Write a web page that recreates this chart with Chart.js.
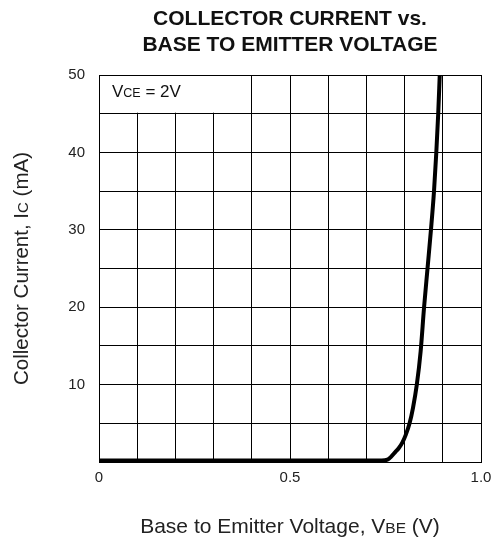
<!DOCTYPE html>
<html>
<head>
<meta charset="utf-8">
<script src="https://cdn.jsdelivr.net/npm/chart.js@4"></script>
<style>
  html, body { margin: 0; padding: 0; background: #fff; }
  #wrap { width: 499px; height: 541px; }
</style>
</head>
<body>
<div id="wrap"><canvas id="chart" width="499" height="541"></canvas></div>
<script>
// ── Data ──
const vbe = [0, 0.70, 0.74, 0.755, 0.765, 0.775, 0.785, 0.794, 0.803, 0.813, 0.822, 0.832, 0.842, 0.851, 0.860, 0.869, 0.877, 0.883, 0.888, 0.892];
const ic  = [0.2, 0.2, 0.2, 0.3, 0.7, 1.25, 1.8, 2.5, 3.5, 5, 7, 10, 14.3, 20, 25, 30, 35, 40, 45, 50];
const xTickLabels = { 0: '0', 5: '0.5', 10: '1.0' };
const yTickLabels = [10, 20, 30, 40, 50];

const FONT = "'Liberation Sans', Arial, Helvetica, sans-serif";

// draw a run of text pieces with different sizes on one baseline
function drawParts(ctx, parts, x, y, align) {
  let total = 0;
  parts.forEach(p => { ctx.font = p[1] + 'px ' + FONT; total += ctx.measureText(p[0]).width; });
  let cx = align === 'center' ? x - total / 2 : x;
  ctx.textAlign = 'left';
  ctx.textBaseline = 'alphabetic';
  parts.forEach(p => {
    ctx.font = p[1] + 'px ' + FONT;
    ctx.fillText(p[0], cx, y);
    cx += ctx.measureText(p[0]).width;
  });
}

const decor = {
  id: 'decor',
  beforeDatasetsDraw(chart) {
    const { ctx, scales: { x, y } } = chart;
    // note box in the top-left cells
    ctx.save();
    ctx.fillStyle = '#fff';
    const l = x.getPixelForValue(0), r = x.getPixelForValue(0.4);
    const t = y.getPixelForValue(50), b = y.getPixelForValue(45);
    ctx.fillRect(l + 1, t + 1, r - l - 2, b - t - 2);
    ctx.fillStyle = '#111';
    drawParts(ctx, [['V', 17], ['CE', 12.5], [' = 2V', 17]], 112, 97, 'left');
    ctx.restore();
  },
  afterDraw(chart) {
    const { ctx, chartArea } = chart;
    const cx = (chartArea.left + chartArea.right) / 2;
    ctx.save();
    ctx.fillStyle = '#111';
    ctx.textAlign = 'center';
    ctx.textBaseline = 'alphabetic';
    ctx.font = 'bold 21px ' + FONT;
    ctx.fillText('COLLECTOR CURRENT vs.', cx, 25);
    ctx.fillText('BASE TO EMITTER VOLTAGE', cx, 51);

    ctx.fillStyle = '#222';
    drawParts(ctx, [['Base to Emitter Voltage, V', 21], ['BE', 15.5], [' (V)', 21]], cx, 533, 'center');

    ctx.translate(28, (chartArea.top + chartArea.bottom) / 2);
    ctx.rotate(-Math.PI / 2);
    drawParts(ctx, [['Collector Current, I', 20.5], ['C', 15], [' (mA)', 20.5]], 0, 0, 'center');
    ctx.restore();
  },
};

new Chart(document.getElementById('chart'), {
  type: 'line',
  data: {
    datasets: [{
      data: vbe.map((v, i) => ({ x: v, y: ic[i] })),
      borderColor: '#000',
      borderWidth: 4,
      pointRadius: 0,
      cubicInterpolationMode: 'monotone',
      fill: false,
    }],
  },
  options: {
    responsive: false,
    animation: false,
    layout: { padding: { top: 75, right: 18, left: 0, bottom: 0 } },
    plugins: { legend: { display: false }, tooltip: { enabled: false }, title: { display: false } },
    scales: {
      x: {
        type: 'linear', min: 0, max: 1,
        afterFit: s => { s.height = 79; },
        ticks: {
          stepSize: 0.1, autoSkip: false, maxRotation: 0, padding: 7,
          color: '#222', font: { family: FONT, size: 15 },
          callback: v => xTickLabels[Math.round(v * 10)] || '',
        },
        grid: { color: '#000', lineWidth: 1, drawTicks: false },
        border: { color: '#000', width: 1 },
      },
      y: {
        min: 0, max: 50,
        afterFit: s => { s.width = 99; },
        ticks: {
          stepSize: 5, autoSkip: false, padding: 14,
          color: '#222', font: { family: FONT, size: 15 },
          callback: v => yTickLabels.includes(v) ? String(v) : '',
        },
        grid: { color: '#000', lineWidth: 1, drawTicks: false },
        border: { color: '#000', width: 1 },
      },
    },
  },
  plugins: [decor],
});
</script>
</body>
</html>
